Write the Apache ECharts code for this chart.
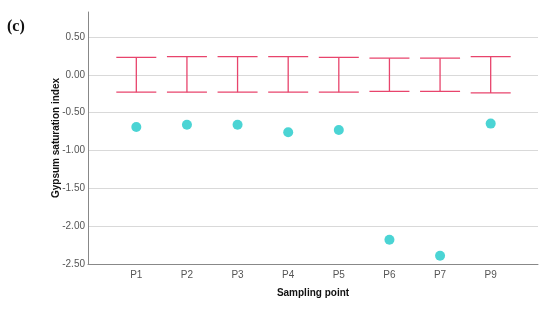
<!DOCTYPE html>
<html>
<head>
<meta charset="utf-8">
<script src="https://cdn.jsdelivr.net/npm/echarts@6/dist/echarts.min.js"></script>
<style>
  html, body { margin: 0; padding: 0; background: #fff; }
  #chart { width: 550px; height: 309px; }
</style>
</head>
<body>
<div id="chart"></div>
<script>
const points = ["P1", "P2", "P3", "P4", "P5", "P6", "P7", "P9"];
const saturation = [-0.69, -0.66, -0.66, -0.76, -0.73, -2.18, -2.39, -0.645];
const upperBound = [0.23, 0.24, 0.24, 0.24, 0.23, 0.22, 0.22, 0.24];
const lowerBound = [-0.23, -0.23, -0.23, -0.23, -0.23, -0.22, -0.22, -0.24];
const yTicks = { min: -2.5, max: 0.83, interval: 0.5 };

const chart = echarts.init(document.getElementById("chart"));

const barData = points.map((p, i) => [i, lowerBound[i], upperBound[i]]);

chart.setOption({
  backgroundColor: "#ffffff",
  animation: false,
  graphic: [
    {
      type: "text",
      left: 7,
      top: 19,
      style: {
        text: "(c)",
        font: "bold 16px 'Liberation Serif', serif",
        fill: "#111"
      }
    }
  ],
  grid: [
    { left: 88, right: 12, top: 12, bottom: 45 },
    { left: 111, right: 34, top: 12, bottom: 45 }
  ],
  xAxis: [
    {
      type: "value",
      gridIndex: 0,
      min: 0,
      max: 1,
      axisLine: { show: true, onZero: false, lineStyle: { color: "#888888", width: 1 } },
      axisTick: { show: false },
      axisLabel: { show: false },
      splitLine: { show: false },
      name: "Sampling point",
      nameLocation: "middle",
      nameGap: 24,
      nameMoveOverlap: false,
      nameTextStyle: {
        fontFamily: "Liberation Sans",
        fontWeight: "bold",
        fontSize: 10,
        color: "#111"
      }
    },
    {
      type: "category",
      gridIndex: 1,
      data: points,
      axisLine: { show: false, onZero: false },
      axisTick: { show: false },
      axisLabel: {
        margin: 6,
        fontFamily: "Liberation Sans",
        fontSize: 10,
        color: "#555555"
      }
    }
  ],
  yAxis: [
    {
      type: "value",
      gridIndex: 0,
      min: yTicks.min,
      max: yTicks.max,
      interval: yTicks.interval,
      axisLine: { show: true, lineStyle: { color: "#888888", width: 1 } },
      axisTick: { show: false },
      axisLabel: {
        margin: 3,
        showMaxLabel: false,
        fontFamily: "Liberation Sans",
        fontSize: 10,
        color: "#555555",
        formatter: v => v.toFixed(2)
      },
      splitLine: {
        show: true,
        lineStyle: {
          color: ["#d9d9d9", "#d9d9d9", "#d9d9d9", "#d9d9d9", "#d9d9d9", "#d9d9d9", "#d9d9d9", "rgba(0,0,0,0)"],
          width: 1
        }
      },
      name: "Gypsum saturation index",
      nameLocation: "middle",
      nameGap: 27,
      nameMoveOverlap: false,
      nameTextStyle: {
        fontFamily: "Liberation Sans",
        fontWeight: "bold",
        fontSize: 10,
        color: "#111"
      }
    },
    {
      type: "value",
      gridIndex: 1,
      min: yTicks.min,
      max: yTicks.max,
      interval: yTicks.interval,
      show: false,
      splitLine: { show: false }
    }
  ],
  series: [
    {
      type: "custom",
      xAxisIndex: 1,
      yAxisIndex: 1,
      data: barData,
      renderItem(params, api) {
        const x = api.value(0);
        const lo = api.coord([x, api.value(1)]);
        const hi = api.coord([x, api.value(2)]);
        const half = api.size([1, 0])[0] * 0.395;
        const style = { stroke: "#e8446c", lineWidth: 1.3 };
        return {
          type: "group",
          children: [
            { type: "line", shape: { x1: hi[0], y1: hi[1], x2: lo[0], y2: lo[1] }, style },
            { type: "line", shape: { x1: hi[0] - half, y1: hi[1], x2: hi[0] + half, y2: hi[1] }, style },
            { type: "line", shape: { x1: lo[0] - half, y1: lo[1], x2: lo[0] + half, y2: lo[1] }, style }
          ]
        };
      }
    },
    {
      type: "scatter",
      xAxisIndex: 1,
      yAxisIndex: 1,
      data: saturation,
      symbol: "circle",
      symbolSize: 10,
      itemStyle: { color: "#1ec9c9" }
    }
  ]
});
</script>
</body>
</html>
